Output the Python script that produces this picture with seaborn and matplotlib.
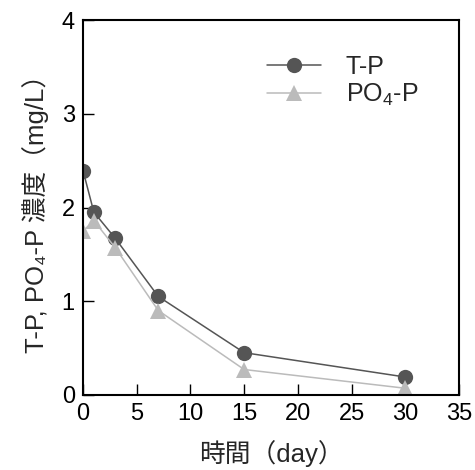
import matplotlib
matplotlib.use("Agg")
import matplotlib.pyplot as plt
import seaborn as sns
import pandas as pd

# data
days = [0, 1, 3, 7, 15, 30]
tp = [2.39, 1.95, 1.67, 1.05, 0.45, 0.19]
po4p = [1.75, 1.86, 1.57, 0.90, 0.27, 0.07]

sns.set_style("ticks")
plt.rcParams["font.family"] = ["Liberation Sans", "Noto Sans CJK JP", "DejaVu Sans"]
plt.rcParams["mathtext.fontset"] = "custom"
plt.rcParams["mathtext.rm"] = "Liberation Sans"
plt.rcParams["mathtext.it"] = "Liberation Sans"

df = pd.DataFrame({"day": days * 2,
                   "conc": tp + po4p,
                   "series": ["T-P"] * len(days) + ["PO$_4$-P"] * len(days)})

fig = plt.figure(figsize=(4.75, 4.7), dpi=100)
ax = fig.add_axes([0.175, 0.16, 0.791, 0.797])

sns.lineplot(data=df, x="day", y="conc", hue="series", style="series",
             markers={"T-P": "o", "PO$_4$-P": "^"}, dashes=False,
             palette={"T-P": "#555555", "PO$_4$-P": "#bbbbbb"},
             markersize=11, markeredgewidth=0, linewidth=1.1, ax=ax)

ax.set_xlim(0, 35)
ax.set_ylim(0, 4)
ax.set_xticks(range(0, 36, 5))
ax.set_yticks(range(0, 5))
ax.tick_params(direction="in", length=8, width=1, labelsize=17, colors="black", pad=6)
for s in ax.spines.values():
    s.set_linewidth(1.5)
    s.set_color("black")

ax.set_xlabel("時間（day）", fontsize=18.5, labelpad=11)
ax.set_ylabel("T-P, PO\u2084-P 濃度（mg/L）", fontsize=18.5, labelpad=9)

leg = ax.legend(loc="upper left", bbox_to_anchor=(0.49, 0.908), frameon=False,
                fontsize=18, handlelength=2.15, labelspacing=0.12, handletextpad=1.0,
                borderpad=0, borderaxespad=0, title=None)

fig.savefig("out.png", dpi=100)
